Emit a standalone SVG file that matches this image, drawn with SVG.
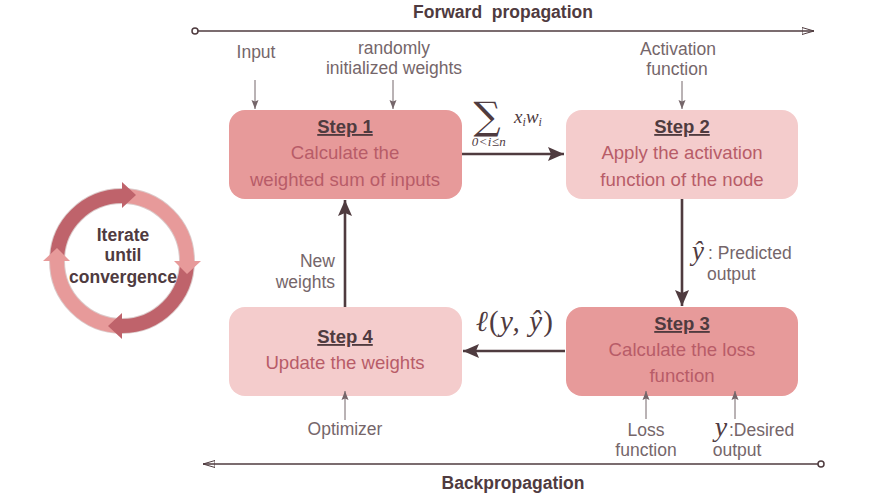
<svg xmlns="http://www.w3.org/2000/svg" width="891" height="495" viewBox="0 0 891 495">
<style>
text{font-family:"Liberation Sans",Arial,sans-serif;text-anchor:middle}
.box{stroke:none}
.dark{fill:#e79a9a}
.light{fill:#f4cccc}
.h{font-size:18.5px;font-weight:bold;fill:#4f3b3f;text-decoration:underline}
.b{font-size:18.6px;fill:#b85c68}
.l{font-size:17.5px;fill:#75666a}
.t{font-size:17.5px;font-weight:bold;fill:#4f3b3f}
.m{font-family:"Liberation Serif",serif;font-style:italic;fill:#4f3b3f}
.n{font-family:"DejaVu Serif",serif;font-style:normal;fill:#4f3b3f}
.thin{stroke:#75666a;stroke-width:1;fill:none}
.thick{stroke:#4f3b3f;stroke-width:2.6;fill:none}
.axis{stroke:#4f3b3f;stroke-width:1.4;fill:none}
.ring{fill:none;stroke-width:14}
</style>
<defs>
<marker id="ah" markerUnits="userSpaceOnUse" markerWidth="18" markerHeight="14" refX="16" refY="7" orient="auto"><path d="M0,0L16,7L0,14L3,7Z" fill="#4f3b3f"/></marker>
<marker id="as" markerUnits="userSpaceOnUse" markerWidth="10" markerHeight="8" refX="9" refY="4" orient="auto"><path d="M0,0.5L9,4L0,7.5L1.5,4Z" fill="#75666a"/></marker>
<marker id="aa" markerUnits="userSpaceOnUse" markerWidth="13" markerHeight="8" refX="12" refY="4" orient="auto"><path d="M0,0.5L12,4L0,7.5Z" fill="none" stroke="#4f3b3f" stroke-width="1"/></marker>
</defs>
<g id="step1"><rect class="box dark" x="229" y="110" width="233" height="89" rx="16"/>
<text class="h" x="345" y="133">Step 1</text><text class="b" x="345" y="159">Calculate the</text><text class="b" x="345" y="186">weighted sum of inputs</text></g>
<g id="step2"><rect class="box light" x="566" y="110" width="232" height="89" rx="16"/>
<text class="h" x="682" y="133">Step 2</text><text class="b" x="682" y="159">Apply the activation</text><text class="b" x="682" y="186">function of the node</text></g>
<g id="step3"><rect class="box dark" x="566" y="307" width="232" height="89" rx="16"/>
<text class="h" x="682" y="330">Step 3</text><text class="b" x="682" y="356">Calculate the loss</text><text class="b" x="682" y="382">function</text></g>
<g id="step4"><rect class="box light" x="229" y="307" width="233" height="89" rx="16"/>
<text class="h" x="345" y="343">Step 4</text><text class="b" x="345" y="369">Update the weights</text></g>
<g id="connectors">
<path class="axis" d="M197,31H814" marker-end="url(#aa)"/>
<circle cx="195" cy="31" r="3" fill="#fff" stroke="#4f3b3f" stroke-width="1.5"/>
<path class="axis" d="M818,464H203" marker-end="url(#aa)"/>
<circle cx="821" cy="464" r="3" fill="#fff" stroke="#4f3b3f" stroke-width="1.5"/>
<path class="thin" d="M255,80V109" marker-end="url(#as)"/>
<path class="thin" d="M393,80V109" marker-end="url(#as)"/>
<path class="thin" d="M682,81V109" marker-end="url(#as)"/>
<path class="thin" d="M345,420V391" marker-end="url(#as)"/>
<path class="thin" d="M646,419V391" marker-end="url(#as)"/>
<path class="thin" d="M735,419V391" marker-end="url(#as)"/>
<path class="thick" d="M462,154H564" marker-end="url(#ah)"/>
<path class="thick" d="M682,199V306" marker-end="url(#ah)"/>
<path class="thick" d="M565,351H463" marker-end="url(#ah)"/>
<path class="thick" d="M345,307V200" marker-end="url(#ah)"/>
</g>
<g id="labels">
<text class="t" x="503" y="18" xml:space="preserve">Forward  propagation</text>
<text class="t" x="513" y="489">Backpropagation</text>
<text class="l" x="256" y="58">Input</text>
<text class="l" x="394" y="54">randomly</text>
<text class="l" x="394" y="74">initialized weights</text>
<text class="l" x="678" y="55">Activation</text>
<text class="l" x="677" y="75">function</text>
<text class="l" x="335" y="267" style="text-anchor:end">New</text>
<text class="l" x="335" y="288" style="text-anchor:end">weights</text>
<text class="l" x="345" y="435">Optimizer</text>
<text class="l" x="646" y="436">Loss</text>
<text class="l" x="646" y="456">function</text>
<text class="l" x="729" y="436" style="text-anchor:start">:Desired</text>
<text class="l" x="737" y="456">output</text>
<text class="l" x="708" y="259" style="text-anchor:start">: Predicted</text>
<text class="l" x="707" y="280" style="text-anchor:start">output</text>
<text class="m" x="721" y="436" font-size="28">y</text>
<text class="m" x="698" y="260" font-size="27">ŷ</text>
<text class="m" x="515" y="331" font-size="29" letter-spacing="1.2"><tspan>ℓ</tspan><tspan style="font-style:normal">(</tspan>y, ŷ<tspan style="font-style:normal">)</tspan></text>
<text class="n" x="487" y="129" font-size="38">∑</text>
<text class="m" x="489" y="146" font-size="13" letter-spacing="0.4">0&lt;i≤n</text>
<text class="m" x="528" y="123" font-size="19">x<tspan font-size="12" dy="3">i</tspan><tspan dy="-3">w</tspan><tspan font-size="12" dy="3">i</tspan></text>
</g>
<g id="cycle">
<circle cx="122" cy="261" r="65" fill="none" stroke="#dccaca" stroke-width="16"/>
<path class="ring" d="M57,261A65,65 0 0 1 122,196" stroke="#bf636b"/>
<path class="ring" d="M122,196A65,65 0 0 1 187,261" stroke="#e79a9a"/>
<path class="ring" d="M187,261A65,65 0 0 1 122,326" stroke="#bf636b"/>
<path class="ring" d="M122,326A65,65 0 0 1 57,261" stroke="#e79a9a"/>
<path d="M122,182L136,195L122,208Z" fill="#bf636b"/>
<path d="M174,261H201L187,274Z" fill="#e79a9a"/>
<path d="M122,313L108,326L122,339Z" fill="#bf636b"/>
<path d="M43,261H70L57,248Z" fill="#e79a9a"/>
<text class="t" x="123" y="241">Iterate</text>
<text class="t" x="123" y="261">until</text>
<text class="t" x="123" y="283">convergence</text>
</g>
</svg>
